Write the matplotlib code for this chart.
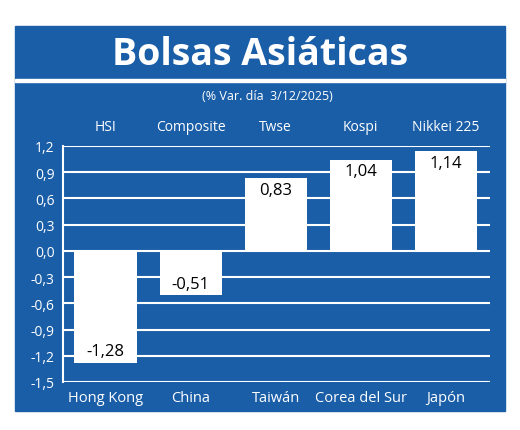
import matplotlib
matplotlib.use("Agg")
import matplotlib.pyplot as plt
from matplotlib.patches import Rectangle

countries = ["Hong Kong", "China", "Taiwán", "Corea del Sur", "Japón"]
indices = ["HSI", "Composite", "Twse", "Kospi", "Nikkei 225"]
values = [-1.28, -0.51, 0.83, 1.04, 1.14]
yticks = [1.2, 0.9, 0.6, 0.3, 0.0, -0.3, -0.6, -0.9, -1.2, -1.5]

BLUE = "#1a5ea8"
plt.rcParams['font.family'] = ['Open Sans', 'DejaVu Sans']
fig = plt.figure(figsize=(5.2, 4.31), dpi=100)
fig.patch.set_facecolor("white")
fig.add_artist(Rectangle((15/520, 1-412/431), 490/520, 385/431, transform=fig.transFigure, color=BLUE, zorder=0))
fig.add_artist(Rectangle((15/520, 1-83/431), 490/520, 3/431, transform=fig.transFigure, color="white", zorder=1))
fig.text(0.5, 1-55/431, "Bolsas Asiáticas", color="white", fontsize=27, fontweight="bold", ha="center", va="center")
fig.text(0.515, 1-97/431, "(% Var. día  3/12/2025)", color="white", fontsize=9, ha="center", va="center")

ax = fig.add_axes([63/520, 1-383/431, 427/520, 236/431])
ax.set_facecolor("none")
x = list(range(len(values)))
bars = ax.bar(x, values, width=0.73, color="white", zorder=3)
ax.set_ylim(-1.5, 1.2)
ax.set_xlim(-0.5, 4.52)
ax.set_yticks(yticks)
ax.set_yticklabels([f"{v:.1f}".replace(".", ",") for v in yticks], color="white", fontsize=10)
ax.yaxis.grid(True, color="white", linewidth=1.5, zorder=1)
ax.tick_params(length=0, pad=6)
ax.set_xticks(x)
ax.set_xticklabels(countries, color="white", fontsize=10.5)
for s in ["top", "right", "bottom"]:
    ax.spines[s].set_visible(False)
ax.spines["left"].set_color("white")
ax.spines["left"].set_linewidth(1.5)
for i, v in enumerate(values):
    lbl = f"{v:.2f}".replace(".", ",")
    if v > 0:
        ax.text(i, v - 0.04, lbl, ha="center", va="top", fontsize=12, color="black", zorder=4)
    else:
        ax.text(i, v + 0.04, lbl, ha="center", va="bottom", fontsize=12, color="black", zorder=4)
    ax.text(i, 1.42, indices[i], ha="center", va="center", fontsize=10, color="white")
fig.savefig("out.png", dpi=100)
